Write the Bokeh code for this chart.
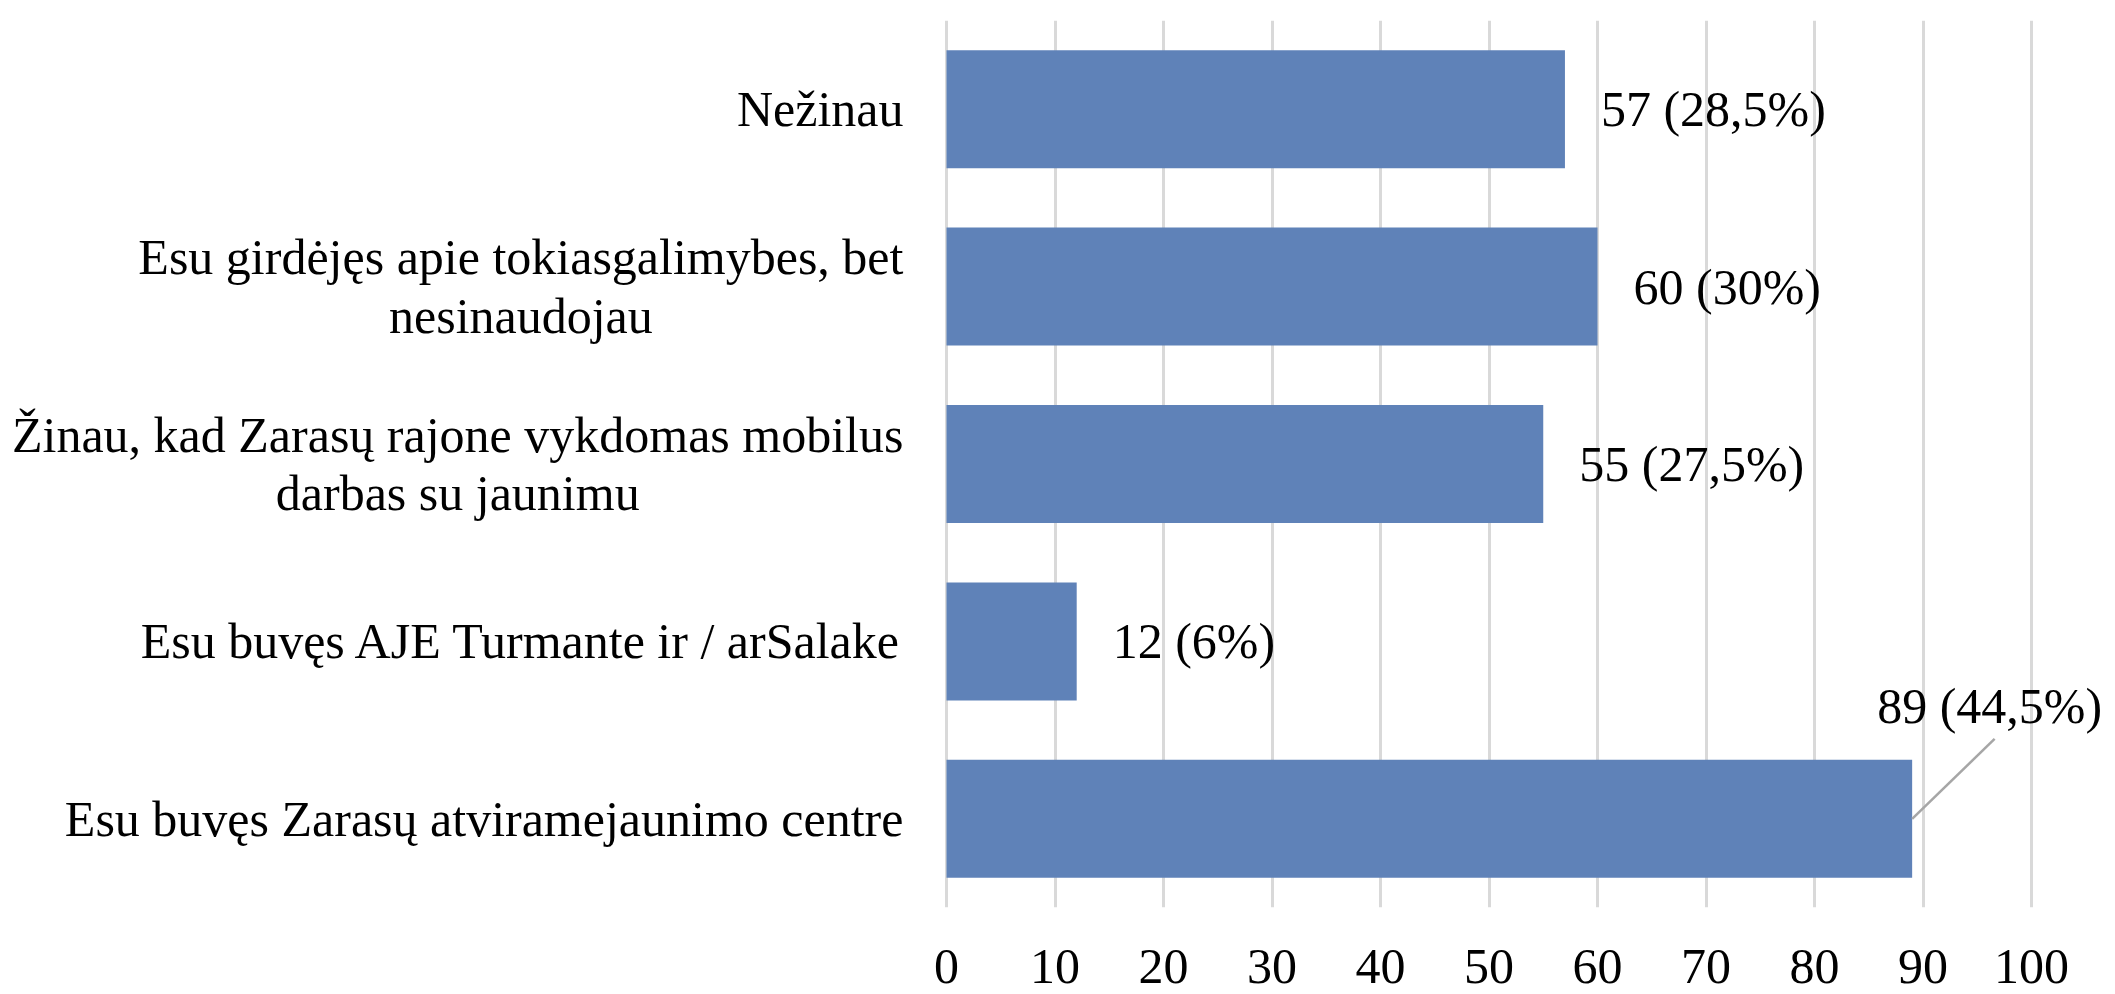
from bokeh.plotting import figure
from bokeh.models import ColumnDataSource, Label, FactorRange, Range1d, FixedTicker
from bokeh.transform import dodge
from bokeh.embed import file_html
from bokeh.resources import INLINE

# ---- data (bottom to top) ----
categories = [
    "Esu buvęs Zarasų atviramejaunimo centre",
    "Esu buvęs AJE Turmante ir / arSalake",
    "Žinau, kad Zarasų rajone vykdomas mobilus darbas su jaunimu",
    "Esu girdėjęs apie tokiasgalimybes, bet nesinaudojau",
    "Nežinau",
]
display_labels = [
    "Esu buvęs Zarasų atviramejaunimo centre",
    "Esu buvęs AJE Turmante ir / arSalake",
    "Žinau, kad Zarasų rajone vykdomas mobilus\ndarbas su jaunimu",
    "Esu girdėjęs apie tokiasgalimybes, bet\nnesinaudojau",
    "Nežinau",
]
values = [89, 12, 55, 60, 57]
percents = ["44,5%", "6%", "27,5%", "30%", "28,5%"]
x_ticks = [0, 10, 20, 30, 40, 50, 60, 70, 80, 90, 100]

FONT = "Liberation Serif"
FSN = 50
FS = f"{FSN}px"
BAR = "#5F82B8"

# layout: value axis 0..100 spans 1085 px starting 946 px from the left;
# the frame covers the whole canvas so that the category texts are not clipped
AXIS_LEFT_PX = 946
AXIS_LEN_PX = 1085
FRAME_W = 2110
px_per_unit = AXIS_LEN_PX / 100.0
x_start = -AXIS_LEFT_PX / px_per_unit
x_end = x_start + FRAME_W / px_per_unit

# Times-compatible advance widths (per 1000 em) to centre wrapped label lines
_W = {" ": 250, ",": 250, "/": 278, "A": 722, "E": 611, "J": 389, "N": 722,
      "S": 556, "T": 611, "Z": 611, "Ž": 611, "a": 444, "b": 500, "c": 444,
      "d": 500, "e": 444, "ė": 444, "ę": 444, "g": 500, "i": 278, "j": 278,
      "k": 500, "l": 278, "m": 778, "n": 500, "o": 500, "p": 500, "r": 333,
      "s": 389, "t": 278, "u": 500, "ų": 500, "v": 500, "y": 500, "ž": 444}


def text_width(s):
    return max(sum(_W.get(ch, 500) for ch in line) for line in s.split("\n")) * FSN / 1000.0


def ypos(cat):
    # synthetic coordinate of a factor's centre on the categorical y range
    return categories.index(cat) + 0.5


labels = [f"{v} ({p})" for v, p in zip(values, percents)]
callout = [i for i, v in enumerate(values) if v == max(values)]
normal = [i for i in range(len(values)) if i not in callout]

p = figure(
    y_range=FactorRange(factors=categories),
    x_range=Range1d(x_start, x_end),
    frame_width=FRAME_W, frame_height=887,
    min_border_left=0, min_border_right=0,
    min_border_top=20, min_border_bottom=82,
    output_backend="svg", toolbar_location=None,
)
p.outline_line_color = None
p.background_fill_color = "white"
p.border_fill_color = "white"

src = ColumnDataSource(dict(cat=categories, val=values, lab=labels))
p.hbar(y="cat", right="val", left=0, height=0.665, source=src,
       fill_color=BAR, line_color=None)

# axes
p.xaxis.ticker = FixedTicker(ticks=x_ticks)
ax = p.xaxis[0]
ax.axis_line_color = None
ax.major_tick_line_color = None
ax.minor_tick_line_color = None
ax.major_label_text_font = FONT
ax.major_label_text_font_size = FS
ax.major_label_text_color = "black"
ax.major_label_text_line_height = 1.0
ax.major_label_standoff = 36
p.yaxis.visible = False

p.ygrid.grid_line_color = None
p.xgrid.grid_line_color = "#D9D9D9"
p.xgrid.grid_line_width = 3

# category labels (wrapped lines centred, block right-aligned near the axis)
STANDOFF = 43
for cat, txt in zip(categories, display_labels):
    p.add_layout(Label(x=0, y=ypos(cat), text=txt,
                       x_offset=-(STANDOFF + text_width(txt) / 2.0),
                       text_align="center", text_baseline="middle",
                       text_font=FONT, text_font_size=FS, text_color="black",
                       text_line_height=1.05))

# value labels
for i in normal:
    p.add_layout(Label(x=values[i], y=ypos(categories[i]), text=labels[i],
                       x_offset=36, text_baseline="middle", text_align="left",
                       text_font=FONT, text_font_size=FS, text_color="black"))

csrc = ColumnDataSource(dict(cat=[categories[i] for i in callout],
                             val=[values[i] for i in callout],
                             val2=[values[i] + 7.6 for i in callout]))
p.segment(x0="val", y0="cat", x1="val2", y1=dodge("cat", 0.45, range=p.y_range),
          source=csrc, line_color="#A6A6A6", line_width=2.5)
for i in callout:
    p.add_layout(Label(x=values[i], y=ypos(categories[i]), text=labels[i],
                       x_offset=-35, y_offset=113, text_baseline="middle", text_align="left",
                       text_font=FONT, text_font_size=FS, text_color="black"))

open("out.html", "w").write(file_html(p, INLINE))
